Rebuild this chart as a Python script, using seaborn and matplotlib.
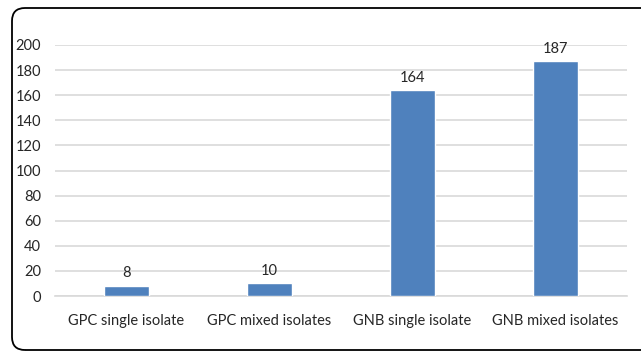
import matplotlib
matplotlib.use("Agg")
import matplotlib.pyplot as plt
from matplotlib.patches import FancyBboxPatch
import seaborn as sns
import pandas as pd

categories = ["GPC single isolate", "GPC mixed isolates", "GNB single isolate", "GNB mixed isolates"]
counts = [8, 10, 164, 187]
y_ticks = [0, 20, 40, 60, 80, 100, 120, 140, 160, 180, 200]

df = pd.DataFrame({"category": categories, "count": counts})

sns.set_theme(style="white")
plt.rcParams["font.family"] = ["Lato", "DejaVu Sans"]

W, H, DPI = 641, 354, 100
fig = plt.figure(figsize=(W / DPI, H / DPI), dpi=DPI)
ax = fig.add_axes([55 / W, 1 - 296 / H, (627 - 55) / W, (296 - 45) / H])

sns.barplot(data=df, x="category", y="count", color="#4f81bd", saturation=1,
            width=0.315, ax=ax, zorder=3)

ax.set_ylim(0, 200)
ax.set_xlim(-0.5, len(categories) - 0.5)
ax.set_yticks(y_ticks)
ax.yaxis.grid(True, color="#d9d9d9", linewidth=1.2, zorder=0)
ax.set_axisbelow(True)
for side in ["top", "right", "left"]:
    ax.spines[side].set_visible(False)
ax.spines["bottom"].set_color("#d9d9d9")
ax.spines["bottom"].set_linewidth(1.2)
ax.set_xlabel("")
ax.set_ylabel("")
ax.tick_params(axis="y", length=0, pad=10, labelsize=10.5, labelcolor="#262626")
ax.tick_params(axis="x", length=0, pad=13, labelsize=10.5, labelcolor="#262626")

for container in ax.containers:
    ax.bar_label(container, labels=[str(v) for v in counts], padding=4,
                 fontsize=10.5, color="#262626")

frame = FancyBboxPatch((12, 4), W + 20 - 12, 346 - 4,
                       boxstyle="round,pad=0,rounding_size=13",
                       transform=None, facecolor="none", edgecolor="black",
                       linewidth=1.3)
fig.patches.append(frame)

fig.savefig("out.png", dpi=DPI)
